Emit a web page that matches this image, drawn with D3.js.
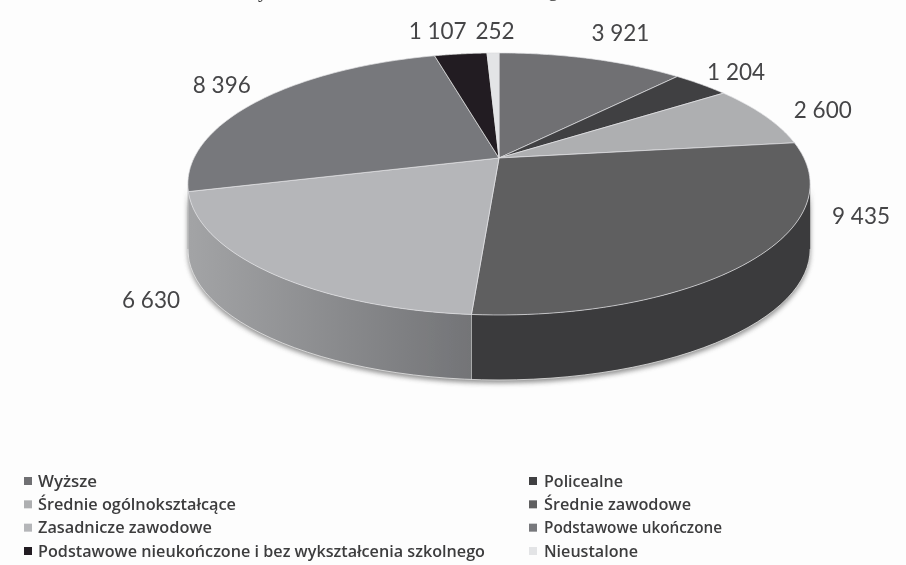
<!DOCTYPE html>
<html lang="pl">
<head>
<meta charset="utf-8">
<script src="https://cdn.jsdelivr.net/npm/d3@7"></script>
<style>
html,body{margin:0;padding:0;background:#fdfdfd}
svg{display:block}
.lab{font-family:Lato,"Open Sans",sans-serif;font-size:22.5px;fill:#454547;text-anchor:middle;dominant-baseline:central}
.leg{font-family:"Open Sans","Noto Sans",sans-serif;font-size:16px;font-weight:600;fill:#3c3c3e}
</style>
</head>
<body>
<svg id="c" width="906" height="565"></svg>
<script>
const categories = ["Wyższe","Policealne","Średnie ogólnokształcące","Średnie zawodowe","Zasadnicze zawodowe","Podstawowe ukończone","Podstawowe nieukończone i bez wykształcenia szkolnego","Nieustalone"];
const values = [3921,1204,2600,9435,6630,8396,1107,252];
const valueLabels = ["3 921","1 204","2 600","9 435","6 630","8 396","1 107","252"];
const colors = ["#6f7073","#404042","#aeafb1","#5f5f61","#b5b6b9","#77787b","#231f20","#e3e4e6"];
const labelOffsets = [[29,-26],[35,-13],[58,-6],[106,-43],[-118,27],[-38,-16],[-23,-23],[2,-22]];
const legendWidths = [59,79,198,147,174,178,447,94];

// Perspective projection of the tilted pie
const apex = {x:499, y:158}, radX = 305, radY = 125.9, persp = 0.198, depth = 65;
const project = a => {
  const u = Math.sin(a), v = Math.cos(a), d = 1 + persp * v;
  return [apex.x + radX * u / d, apex.y - radY * v / d];
};
const svg = d3.select("#c");
const defs = svg.append("defs");
defs.append("filter").attr("id","soft").attr("x","-5%").attr("y","-5%").attr("width","110%").attr("height","110%")
  .append("feGaussianBlur").attr("stdDeviation",0.45);
defs.append("filter").attr("id","shadow").attr("x","-10%").attr("y","-10%").attr("width","120%").attr("height","120%")
  .append("feGaussianBlur").attr("stdDeviation",2.5);
const grad = defs.append("linearGradient").attr("id","sideGrad").attr("gradientUnits","userSpaceOnUse")
  .attr("x1",187).attr("x2",472).attr("y1",0).attr("y2",0);
grad.append("stop").attr("offset",0).attr("stop-color","#a3a4a6");
grad.append("stop").attr("offset",1).attr("stop-color","#737477");

const root = svg.append("g").attr("filter","url(#soft)");
root.append("rect").attr("width",906).attr("height",565).attr("fill","#fdfdfd");

// clipped title descenders at the top edge
root.append("text").attr("x",263).attr("y",-3).attr("font-family","Liberation Serif").attr("font-size",20).attr("fill","#333").attr("text-anchor","middle").text("y");
root.append("text").attr("x",553).attr("y",-4).attr("font-family","Liberation Serif").attr("font-size",20).attr("fill","#333").attr("text-anchor","middle").text("g");

const arcs = d3.pie().sort(null)(values);
const line = d3.line();
const sample = (a0,a1) => d3.range(0,61).map(i => project(a0 + (a1-a0)*i/60));

// the outer wall is visible between the two horizontal extremes of the rim
const visFrom = Math.acos(-persp), visTo = 2*Math.PI - visFrom;
const sidePts = (a0,a1) => {
  const top = sample(a0,a1);
  const bot = top.slice().reverse().map(p => [p[0], p[1]+depth]);
  return line(top.concat(bot)) + "Z";
};
root.append("path").attr("d",sidePts(visFrom,visTo)).attr("fill","#555").attr("opacity",.65)
  .attr("transform","translate(0,3)").attr("filter","url(#shadow)");

const sideFill = ["#3b3b3c","#3b3b3c","#3b3b3c","#3b3b3c","url(#sideGrad)","#737477","#222","#ddd"];
arcs.forEach((d,i) => {
  const a0 = Math.max(d.startAngle,visFrom), a1 = Math.min(d.endAngle,visTo);
  if (a1 <= a0) return;
  root.append("path").attr("d",sidePts(a0,a1)).attr("fill",sideFill[i]);
  const p = project(a1);
  if (a1 < visTo) root.append("line").attr("x1",p[0]).attr("y1",p[1]).attr("x2",p[0]).attr("y2",p[1]+depth).attr("stroke","#e8e8e8").attr("stroke-width",0.9);
});
// bottom rim highlight
root.append("path").attr("d",line(sample(visFrom,visTo).map(p=>[p[0],p[1]+depth]))).attr("fill","none").attr("stroke","#e6e6e6").attr("stroke-width",0.8);

// top face
arcs.forEach((d,i) => {
  const pts = [[apex.x,apex.y]].concat(sample(d.startAngle,d.endAngle));
  root.append("path").attr("d",line(pts)+"Z").attr("fill",colors[i]).attr("stroke","#e4e4e6").attr("stroke-width",0.7).attr("stroke-linejoin","round");
});

// value labels
arcs.forEach((d,i) => {
  const p = project((d.startAngle+d.endAngle)/2);
  root.append("text").attr("class","lab").attr("x",p[0]+labelOffsets[i][0]).attr("y",p[1]+labelOffsets[i][1]).text(valueLabels[i]);
});

// legend: two columns, left/right in reading order
const colX = d3.scaleOrdinal().domain([0,1]).range([24,529]);
const rowY = d3.scalePoint().domain(d3.range(4)).range([481,551]);
categories.forEach((c,i) => {
  const col = i%2, row = Math.floor(i/2), x = colX(col), y = rowY(row);
  root.append("rect").attr("x",x).attr("y",y-4).attr("width",8).attr("height",8).attr("fill",colors[i]);
  root.append("text").attr("class","leg").attr("x",x+(col?15:14)).attr("y",y+5.5)
    .attr("textLength",legendWidths[i]).attr("lengthAdjust","spacingAndGlyphs").text(c);
});
</script>
</body>
</html>
